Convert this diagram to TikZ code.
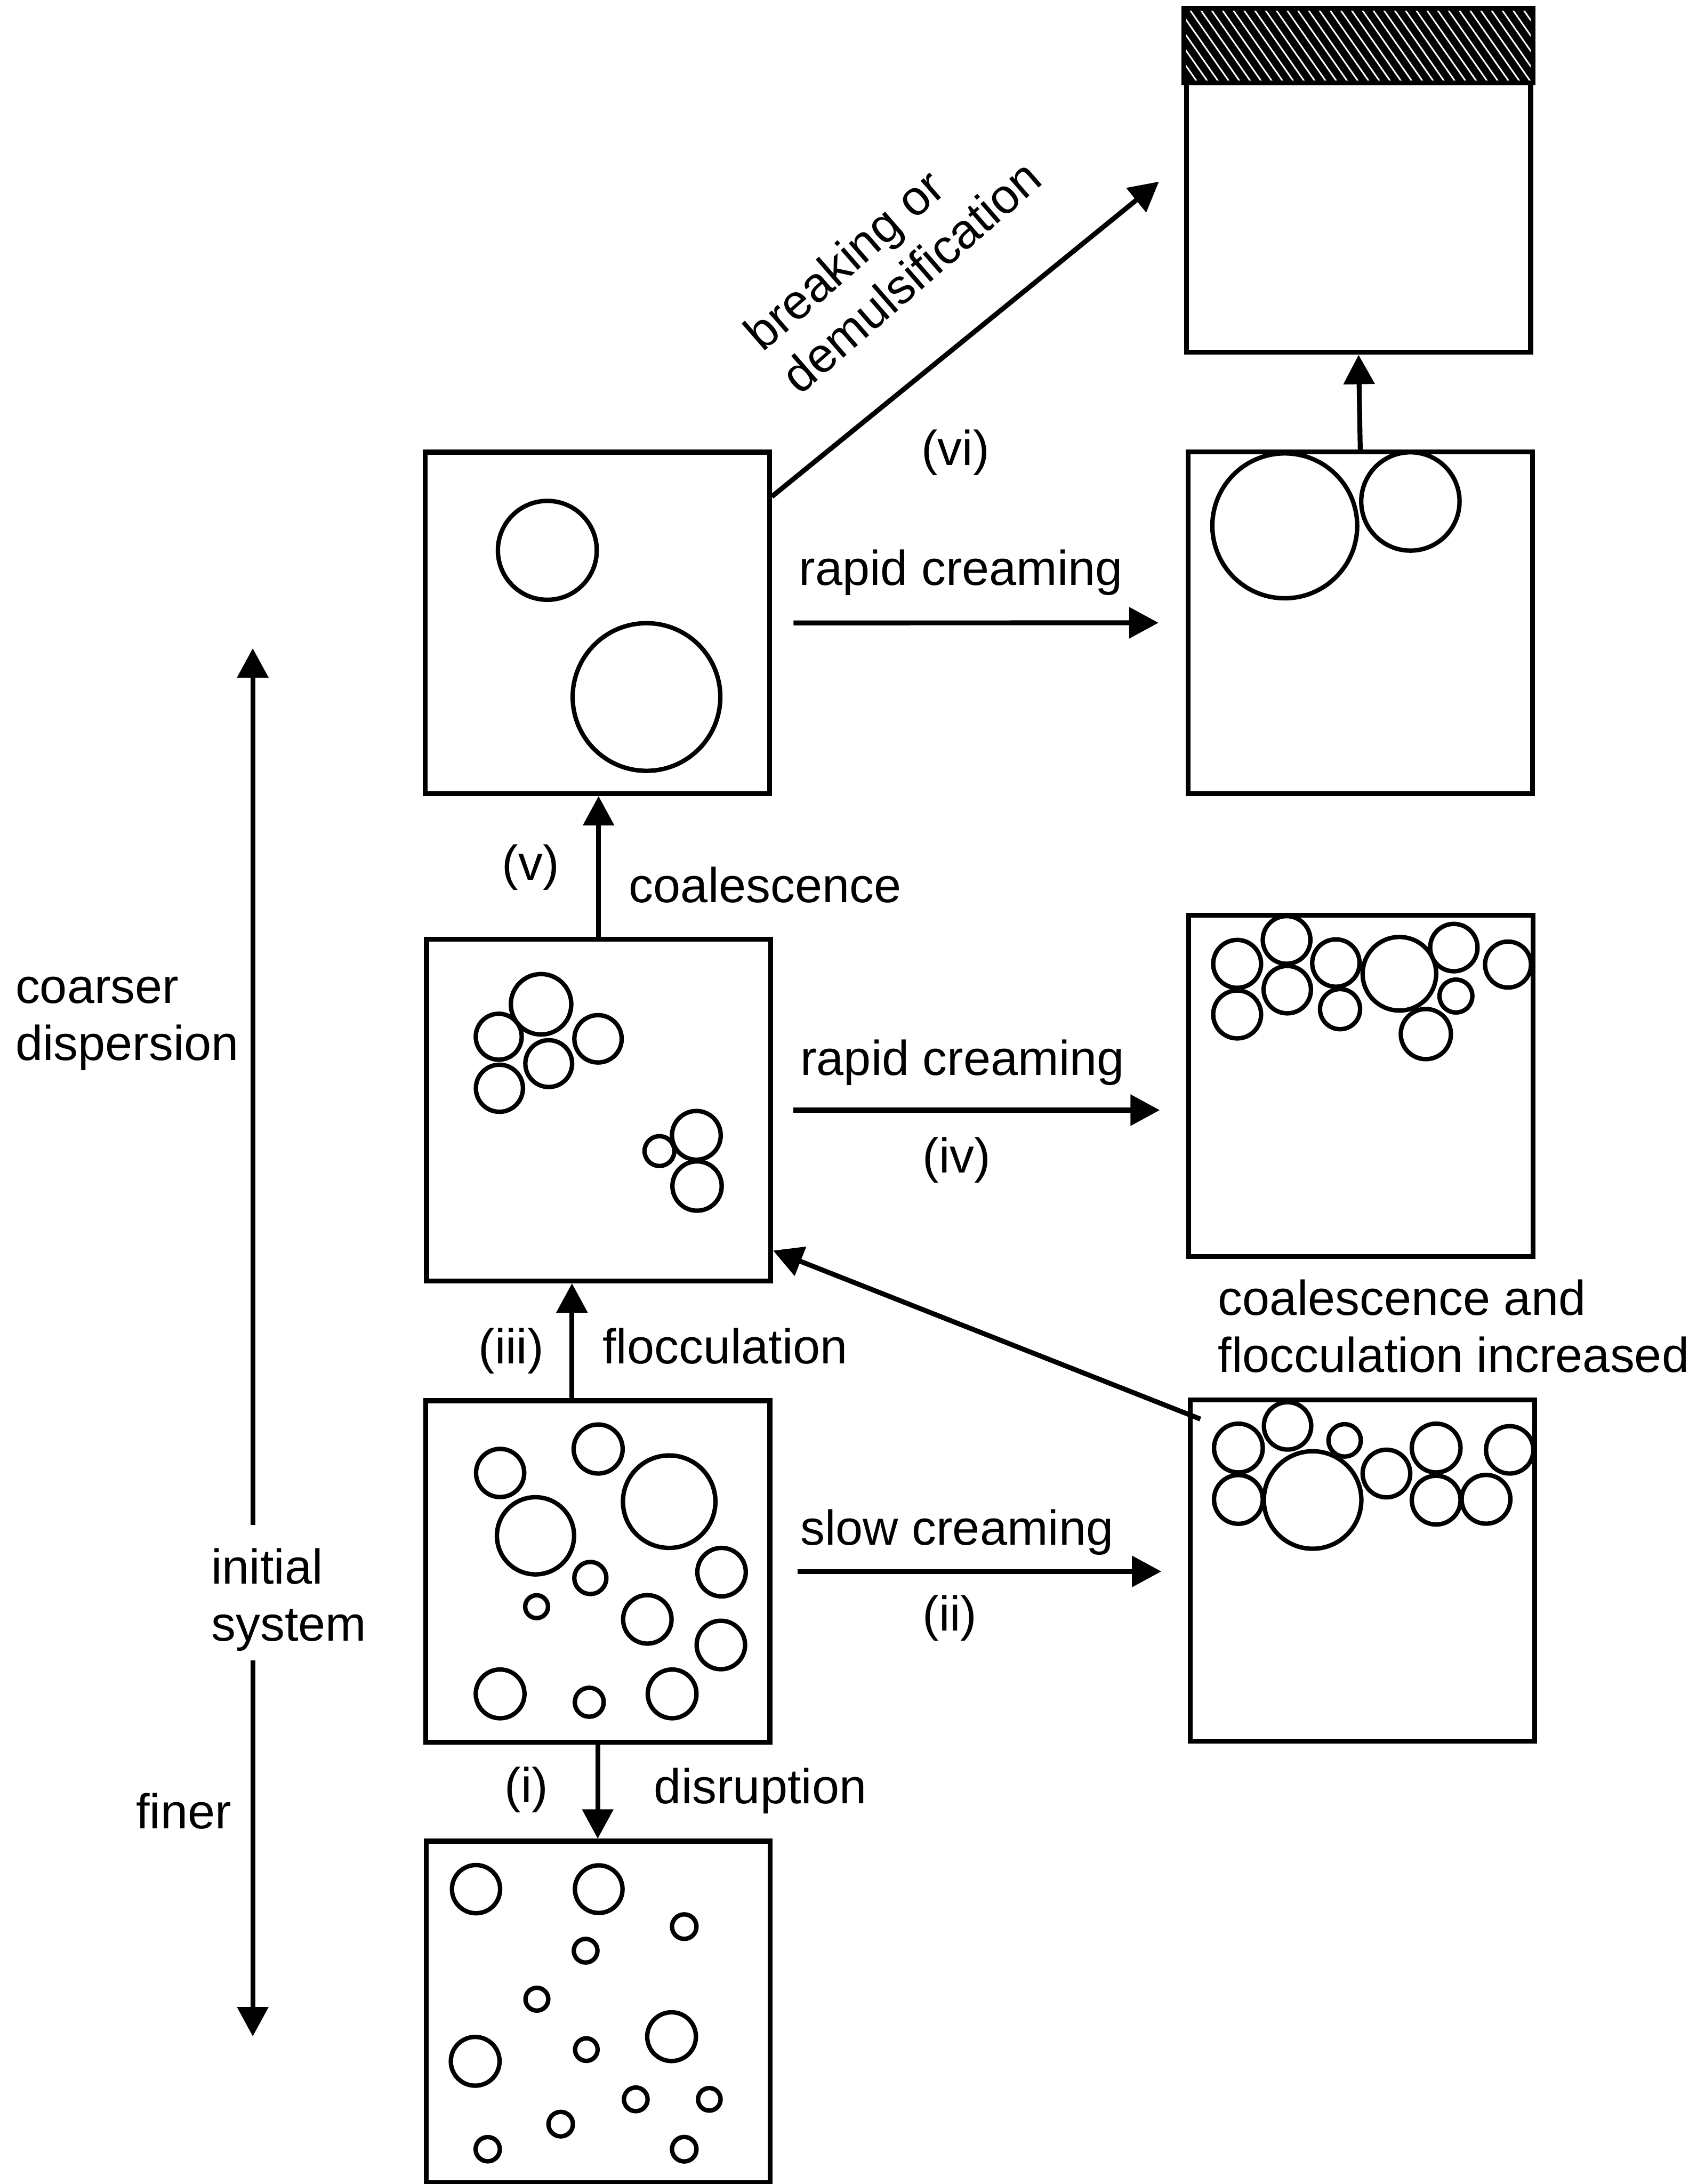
\documentclass[tikz,border=0pt]{standalone}
\usepackage{fontspec}
\setmainfont{Liberation Sans}
\usetikzlibrary{positioning, calc, arrows.meta, patterns.meta}

\tikzset{
    vessel/.style={draw, line width=1pt, minimum width=2.47cm, minimum height=2.45cm, inner sep=0pt},
    drop/.style={line width=0.9pt},
    flow/.style={line width=1pt, -{Triangle[width=6.2pt, length=6pt]}},
    lbl/.style={inner sep=0pt, anchor=base west, font=\fontsize{10}{11.6}\selectfont},
    stage/.style={inner sep=0pt, anchor=base, font=\fontsize{10}{11.6}\selectfont}
}

\begin{document}
\begin{tikzpicture}[x=0.01cm, y=-0.01cm]
    \useasboundingbox (0,0) rectangle (1224,1568);

    % Sample vessels
    \node[vessel] (top) at (975.5,130.4) {};
    \node[vessel] (A) at (428.9,447.2) {};
    \node[vessel] (B) at (976.7,447.1) {};
    \node[vessel] (C) at (429.8,797.0) {};
    \node[vessel] (D) at (977.1,779.5) {};
    \node[vessel] (E) at (429.2,1128.2) {};
    \node[vessel] (F) at (978.2,1127.6) {};
    \node[vessel] (G) at (429.5,1444.4) {};

    % Separated oil layer on top of the broken emulsion
    \coordinate (bandR) at ($(top.north east)+(0,-0.535cm)$);
    \fill[black] (top.north west) rectangle (bandR);
    \fill[pattern={Lines[angle=-55, distance=1.8pt, line width=0.32pt]}, pattern color=white]
        (top.north west) rectangle (bandR);
    \draw[line width=1pt] (top.north west) rectangle (bandR);

    % Droplets: coarse system
    \foreach \x/\y/\r in {393.0/395.1/35.5, 464.2/500.4/53}
        \draw[drop] (\x,\y) circle (\r);

    % Droplets: creamed coarse system
    \foreach \x/\y/\r in {922.5/377.5/52, 1012.7/360/35.3}
        \draw[drop] (\x,\y) circle (\r);

    % Droplets: flocculated system
    \foreach \x/\y/\r in {388.5/721/21.7, 358.1/744.3/16.5, 394/763.6/16.8,
                          429.4/745.8/17, 358.6/781.3/16.9, 473.5/826.4/10.7,
                          500/815.1/17.5, 500.5/851.5/17.7}
        \draw[drop] (\x,\y) circle (\r);

    % Droplets: creamed flocs
    \foreach \x/\y/\r in {888.3/692/17.2, 888.3/728.3/17.2, 923.8/674.8/17.1,
                          924.3/710.5/17, 959.2/691.4/17, 962.2/724.5/14.4,
                          1004.8/699.1/26.4, 1043.9/680.3/17, 1045.4/715.1/11.8,
                          1023.8/742.4/18, 1082.8/692.5/16.5}
        \draw[drop] (\x,\y) circle (\r);

    % Droplets: initial system
    \foreach \x/\y/\r in {359.1/1057.5/17.3, 429.5/1040.3/17.6, 480.5/1078.1/33.2,
                          384.5/1102.6/27.7, 423.9/1132.9/11.5, 385.3/1153.5/8.2,
                          518.1/1128.7/17.4, 464.8/1162.6/17.4, 517.6/1181/17.4,
                          359.1/1216.1/17.5, 423.1/1222.1/10.4, 482.6/1216.1/17.5}
        \draw[drop] (\x,\y) circle (\r);

    % Droplets: slowly creamed layer
    \foreach \x/\y/\r in {889.2/1039.6/17.5, 889.2/1076.5/17.5, 924.5/1023.7/17,
                          942.5/1076.9/35, 965.5/1034.1/11.6, 995.5/1057.9/17.1,
                          1031.2/1039.6/17.5, 1031.2/1077/17.5, 1084/1040.9/17,
                          1067/1076.4/17.5}
        \draw[drop] (\x,\y) circle (\r);

    % Droplets: finer dispersion
    \foreach \x/\y/\r in {341.8/1356.3/17.3, 429.9/1356.3/17.1, 491.3/1383.2/8.8,
                          420.5/1400.5/8.5, 385.5/1435.3/8.2, 482.2/1462.2/17.5,
                          341.2/1479.9/17.5, 421/1471.5/8.1, 456.5/1507.2/8.5,
                          509.3/1507.2/8.1, 402.6/1525/8.8, 350.2/1543/8.7,
                          491.3/1543/8.8}
        \draw[drop] (\x,\y) circle (\r);

    % (vi) breaking path and creaming of the coarse system
    \draw[flow] ([yshift=-0.336cm]A.north east) -- ([xshift=-0.18cm]top.west);
    \draw[flow] (B.north) -- (top.south);
    \draw[flow, shorten <=0.155cm, shorten >=0.195cm] (A.east) -- (B.west);
    \node[rotate=41, lbl, align=left] (brk) at (574,284.5) {breaking or\\demulsification};
    \node[stage] (s6) at (686,334) {(vi)};
    \node[lbl] (cream1) at (573,420) {rapid creaming};

    % (v) coalescence of flocs
    \draw[flow] (C.north) -- (C.north |- A.south);
    \node[stage] (s5) at (381,632) {(v)};
    \node[lbl] (coal) at (451,648) {coalescence};

    % (iv) creaming of flocs
    \draw[flow, shorten <=0.145cm, shorten >=0.19cm] (C.east) -- (C.east -| D.west);
    \node[lbl] (cream2) at (574,772) {rapid creaming};
    \node[stage] (s4) at (687,842) {(iv)};

    % (iii) flocculation
    \coordinate (flocE) at ([xshift=-0.185cm]E.north);
    \draw[flow] (flocE) -- (flocE |- C.south);
    \node[stage] (s3) at (367,979) {(iii)};
    \node[lbl] (floc) at (432,979) {flocculation};

    % (ii) slow creaming and its return path
    \draw[flow, shorten <=0.18cm, shorten >=0.19cm] (E.east) -- (E.east -| F.west);
    \draw[flow] ([xshift=0.09cm, yshift=-0.155cm]F.north west) -- ([yshift=0.235cm]C.south east);
    \node[lbl] (slow) at (574,1109) {slow creaming};
    \node[stage] (s2) at (682,1171) {(ii)};
    \node[lbl, align=left] (incr) at (874,985) {coalescence and\\flocculation increased};

    % (i) disruption
    \draw[flow] (E.south) -- (E.south |- G.north);
    \node[stage] (s1) at (378,1294) {(i)};
    \node[lbl] (disr) at (469,1295) {disruption};

    % Droplet size scale on the left
    \coordinate (scaleTop) at (181.5,465.4);
    \coordinate (scaleBot) at (181.5,1462);
    \coordinate (gapTop) at (181.5,1095);
    \coordinate (gapBot) at (181.5,1192);
    \draw[flow] (gapTop) -- (scaleTop);
    \draw[flow] (gapBot) -- (scaleBot);
    \node[lbl, align=left] (coarse) at (10.4,761.2) {coarser\\dispersion};
    \node[lbl, align=left] (init) at (151,1178) {initial\\system};
    \node[lbl] (fine) at (97,1313) {finer};

\end{tikzpicture}
\end{document}
